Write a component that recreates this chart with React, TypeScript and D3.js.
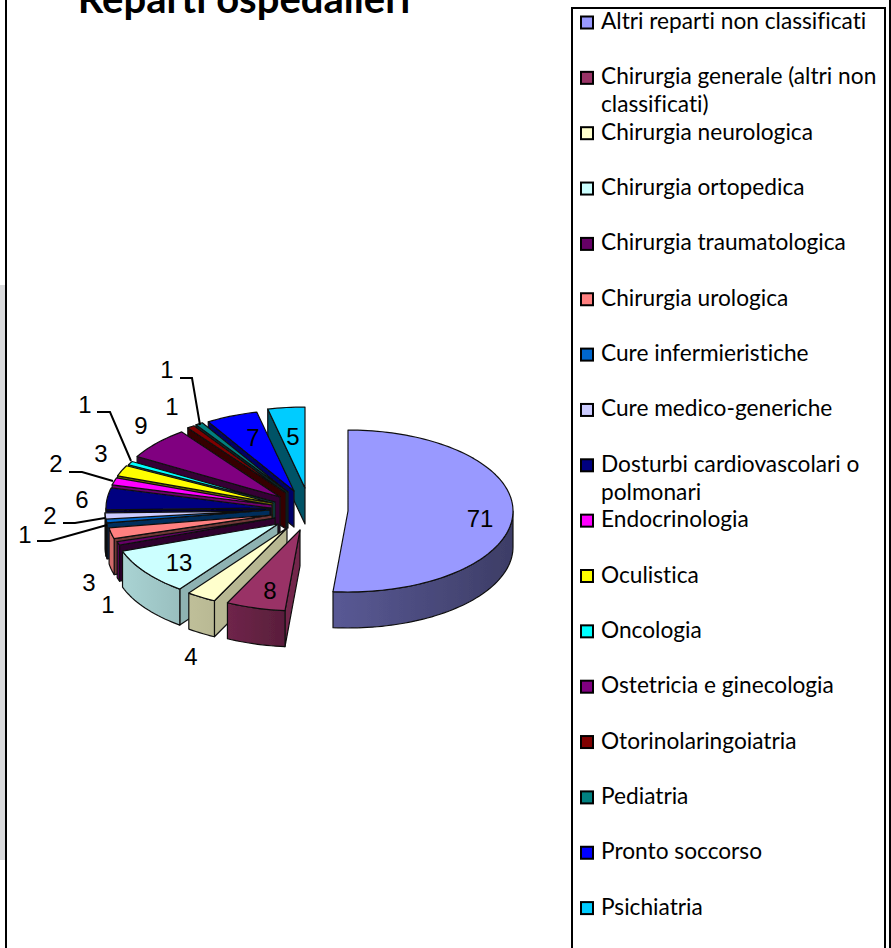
import React from "react";
import * as d3 from "d3";

const categories = [
  "Altri reparti non classificati",
  "Chirurgia generale (altri non classificati)",
  "Chirurgia neurologica",
  "Chirurgia ortopedica",
  "Chirurgia traumatologica",
  "Chirurgia urologica",
  "Cure infermieristiche",
  "Cure medico-generiche",
  "Dosturbi cardiovascolari o polmonari",
  "Endocrinologia",
  "Oculistica",
  "Oncologia",
  "Ostetricia e ginecologia",
  "Otorinolaringoiatria",
  "Pediatria",
  "Pronto soccorso",
  "Psichiatria",
];
const values = [71, 8, 4, 13, 1, 3, 1, 2, 6, 2, 3, 1, 9, 1, 1, 7, 5];
const colors = [
  "#9999FF", "#993366", "#FFFFCC", "#CCFFFF", "#660066", "#FF8080", "#0066CC", "#CCCCFF", "#000080",
  "#FF00FF", "#FFFF00", "#00FFFF", "#800080", "#800000", "#008080", "#0000FF", "#00CCFF",
];
const legendLines = [
  ["Altri reparti non classificati"],
  ["Chirurgia generale (altri non", "classificati)"],
  ["Chirurgia neurologica"],
  ["Chirurgia ortopedica"],
  ["Chirurgia traumatologica"],
  ["Chirurgia urologica"],
  ["Cure infermieristiche"],
  ["Cure medico-generiche"],
  ["Dosturbi cardiovascolari o", "polmonari"],
  ["Endocrinologia"],
  ["Oculistica"],
  ["Oncologia"],
  ["Ostetricia e ginecologia"],
  ["Otorinolaringoiatria"],
  ["Pediatria"],
  ["Pronto soccorso"],
  ["Psichiatria"],
];

// layout of the exploded, tilted pie
const CX = 270, CY = 510, RX = 165, RY = 81, DEPTH = 36;
const sliceShiftX = [78, 30, 17, 8, 5, 2, 0, 0, 1, 2, 3, 5, 10, 16, 18, 24, 35];
const sliceShiftY = [1, 20, 18, 14, 8, 5, 0, 1, -2, -5, -7, -8, -13, -17, -18, -19, -22];
const labelX = [480, 270, 191, 179, 108, 89, 25, 50, 82, 56, 101, 85, 141, 172, 167, 253, 293];
const labelY = [518, 590, 656, 562, 604, 582, 534, 515, 499, 463, 453, 404, 425, 406, 369, 437, 436];
const leaders: Record<number, number[][]> = {
  6: [[37, 541], [50, 541], [107, 525]],
  7: [[63, 523], [75, 523], [105, 518]],
  9: [[69, 472], [82, 472], [113, 481]],
  11: [[97, 412], [110, 412], [131, 461]],
  14: [[180, 378], [192, 378], [200, 425]],
};

const sideShade = d3.scaleLinear().domain([90, 185, 195, 250, 270]).range([0.6, 0.42, 0.3, 0.17, 0.2]).clamp(true);
const wallShade = d3.scaleLinear().domain([185, 216, 250, 347]).range([0.25, 0.3, 0.55, 0.6]).clamp(true);
const shade = (c: string, t: number) => d3.interpolateRgb(c, "#000")(t);
const deg = (r: number) => (r * 180) / Math.PI;

const pieGen = d3.pie<number>().sort(null).value((d) => d);
const arcs = pieGen(values);
const line = d3.line();

export default function App() {
  const slices = arcs.map((a, i) => {
    const ox = CX + sliceShiftX[i], oy = CY + sliceShiftY[i];
    const pt = (ang: number, r = 1): [number, number] => [ox + RX * r * Math.sin(ang), oy - RY * r * Math.cos(ang)];
    const n = Math.max(3, Math.ceil((a.endAngle - a.startAngle) / 0.03));
    const angs = d3.range(n + 1).map((k) => a.startAngle + ((a.endAngle - a.startAngle) * k) / n);
    const top = line([[ox, oy], ...angs.map((t) => pt(t))]) + "Z";
    // outer rim, only the part facing the viewer
    const lo = Math.max(a.startAngle, Math.PI / 2), hi = Math.min(a.endAngle, (3 * Math.PI) / 2);
    let rim: string | null = null;
    let rimX: [number, number] = [0, 0];
    if (hi > lo) {
      const m = Math.max(2, Math.ceil((hi - lo) / 0.03));
      const rs = d3.range(m + 1).map((k) => lo + ((hi - lo) * k) / m);
      const upper = rs.map((t) => pt(t));
      const lower = rs.map((t) => [pt(t)[0], pt(t)[1] + DEPTH] as [number, number]).reverse();
      rim = line([...upper, ...lower]) + "Z";
      rimX = [pt(lo)[0], pt(hi)[0]];
    }
    const s = pt(a.startAngle);
    const wall =
      a.startAngle >= Math.PI / 2
        ? line([[ox, oy], s, [s[0], s[1] + DEPTH], [ox, oy + DEPTH]]) + "Z"
        : null;
    return { i, a, top, rim, rimX, wall, lo, hi };
  });
  // painter's order: big slice, then from the back (top) round to the front
  const order = [0, ...d3.range(16, 0, -1)];
  const lf = "Lato, 'Open Sans', sans-serif";
  return (
    <svg width={891} height={948} style={{ position: "absolute", left: 0, top: 0, background: "#fff" }}>
      <defs>
        <filter id="soft" x="-5%" y="-5%" width="110%" height="110%">
          <feGaussianBlur stdDeviation="0.45" />
        </filter>
        {slices.map((s) =>
          s.rim ? (
            <linearGradient key={s.i} id={`rim${s.i}`} gradientUnits="userSpaceOnUse" x1={s.rimX[0]} x2={s.rimX[1]} y1={0} y2={0}>
              <stop offset="0" stopColor={shade(colors[s.i], sideShade(deg(s.lo)))} />
              <stop offset="1" stopColor={shade(colors[s.i], sideShade(deg(s.hi)))} />
            </linearGradient>
          ) : null,
        )}
      </defs>
      <rect x={0} y={285} width={5} height={575} fill="#d9dadc" />
      <rect x={6} y={-4} width={884} height={960} fill="none" stroke="#000" strokeWidth={2} />
      <text x={244} y={13} textAnchor="middle" fontFamily={lf} fontWeight={700} fontSize={40} fill="#000"
        style={{ fontVariantLigatures: "none" }}>
        Reparti ospedalieri
      </text>
      <g filter="url(#soft)">
        {order.map((idx) => {
          const s = slices[idx];
          return (
            <g key={idx} stroke="#111" strokeWidth={1.2} strokeLinejoin="round">
              {s.wall && <path d={s.wall} fill={shade(colors[idx], wallShade(deg(s.a.startAngle)))} />}
              {s.rim && <path d={s.rim} fill={`url(#rim${idx})`} />}
              <path d={s.top} fill={colors[idx]} />
            </g>
          );
        })}
      </g>
      {Object.entries(leaders).map(([k, pts]) => (
        <path key={k} d={line(pts as [number, number][]) as string} fill="none" stroke="#000" strokeWidth={2} />
      ))}
      {values.map((v, i) => (
        <text key={i} x={labelX[i]} y={labelY[i]} textAnchor="middle" dominantBaseline="central"
          fontFamily="'Liberation Sans', Arial, sans-serif" fontSize={24} fill="#000">
          {v}
        </text>
      ))}
      <rect x={572} y={8} width={313} height={950} fill="#fff" stroke="#000" strokeWidth={2} />
      {categories.map((c, i) => {
        const y = 22.5 + 55.35 * i;
        return (
          <g key={c}>
            <rect x={581} y={y - 6} width={12} height={12} fill={colors[i]} stroke="#000" strokeWidth={2} />
            {legendLines[i].map((t, j) => (
              <text key={j} x={601} y={y + 6.5 + j * 28} fontFamily={lf} fontSize={22.7} fill="#000"
                style={{ fontVariantLigatures: "none" }}>
                {t}
              </text>
            ))}
          </g>
        );
      })}
    </svg>
  );
}
